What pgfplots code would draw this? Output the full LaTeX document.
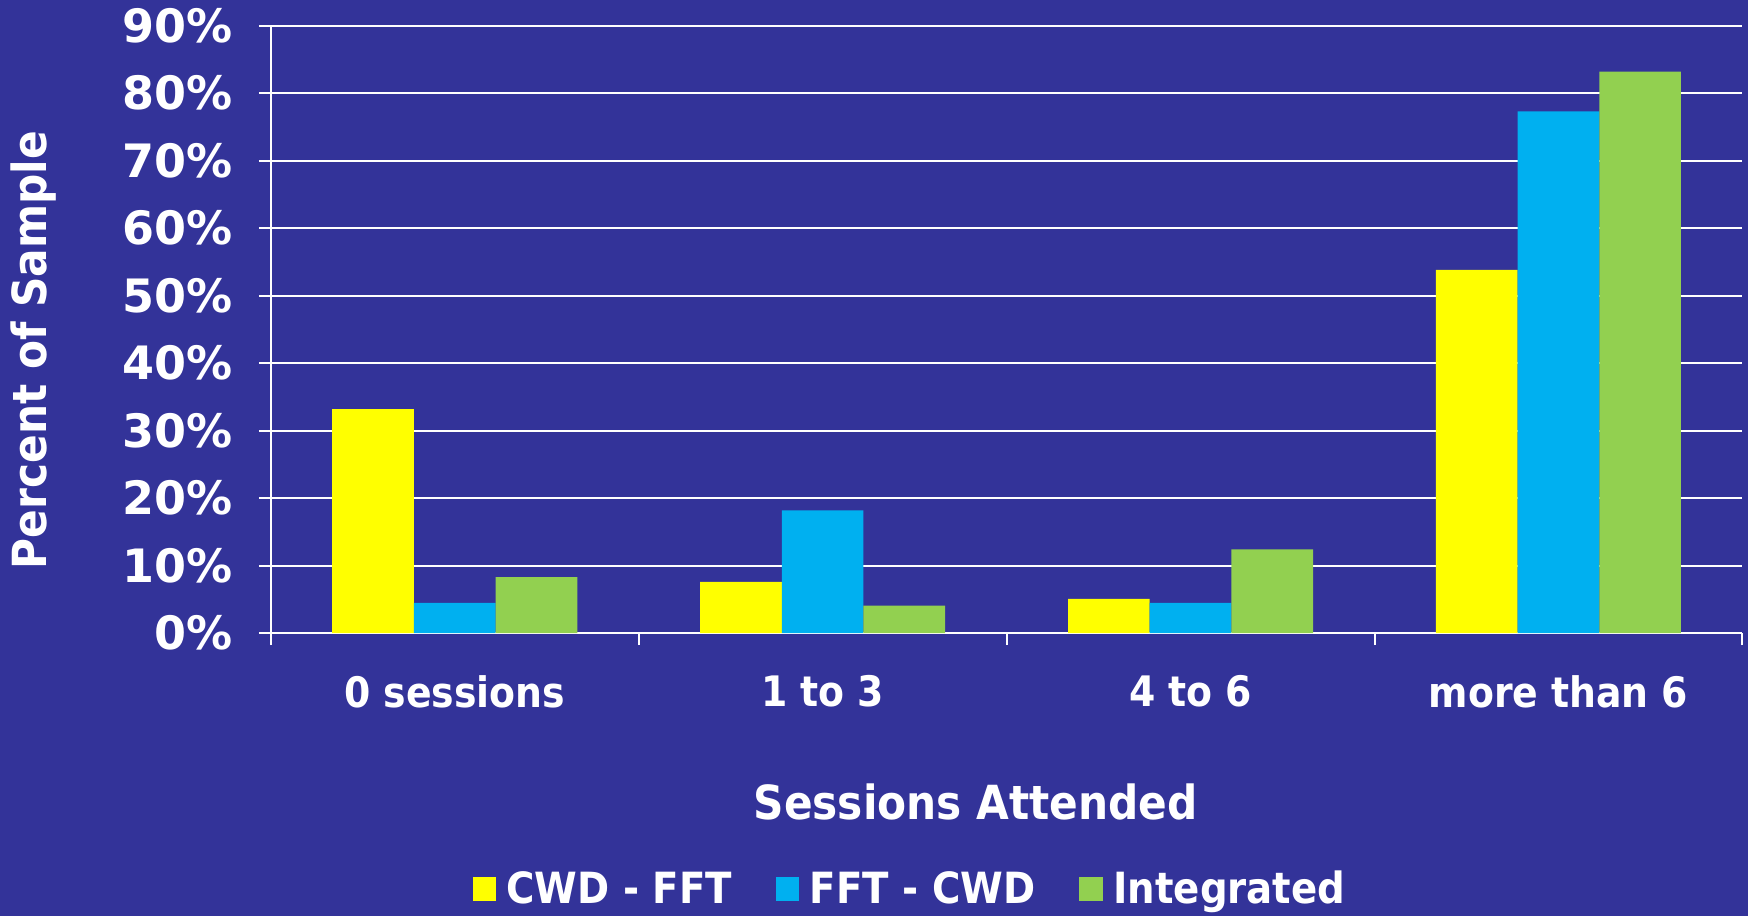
\documentclass[border=0pt]{standalone}
\usepackage{fontspec}
\setmainfont{DejaVu Sans}
\newfontfamily\condb{DejaVu Sans Condensed Bold}
\newfontfamily\dvb{DejaVu Sans Bold}
\usepackage{pgfplots}
\pgfplotsset{compat=1.18}
\definecolor{bg}{HTML}{333399}
\definecolor{cy}{HTML}{FFFF00}
\definecolor{cb}{HTML}{00B0F0}
\definecolor{cg}{HTML}{92D050}
\begin{document}
\begin{tikzpicture}
\useasboundingbox (0,0) rectangle (874pt,458pt);
\fill[bg] (0,0) rectangle (874pt,458pt);
\begin{axis}[
  at={(135.4pt,141.4pt)}, anchor=south west,
  scale only axis, width=735.8pt, height=303.8pt,
  ybar=0pt, bar width=0.222,
  xmin=-0.5, xmax=3.5, ymin=0, ymax=90,
  axis x line*=bottom, axis y line*=left,
  axis line style={white, line width=1pt, -},
  tick style={white, line width=1pt},
  tick align=outside, major tick length=6pt,
  ytick={0,10,...,90},
  /pgf/number format/assume math mode=true,
  yticklabel={\pgfmathprintnumber{\tick}\%},
  yticklabel style={font=\dvb\fontsize{23}{23}\selectfont, text=white, xshift=-9.5pt},
  xtick={-0.5,0.5,1.5,2.5,3.5},
  x tick label as interval,
  xticklabels={0 sessions,1 to 3,4 to 6,more than 6},
  xticklabel style={font=\condb\fontsize{21}{21}\selectfont, text=white, yshift=-11.5pt},
  ymajorgrids, grid style={white, line width=1pt},
  xlabel={Sessions Attended},
  xlabel style={font=\condb\fontsize{23.5}{23.5}\selectfont, text=white, at={(axis description cs:0.479,-0.278)}, anchor=center},
  ylabel={Percent of Sample},
  ylabel style={font=\condb\fontsize{23.5}{23.5}\selectfont, text=white, at={(axis description cs:-0.1613,0.466)}, anchor=center, rotate=0},
  legend columns=3,
  legend style={at={(axis description cs:0.435,-0.421)}, anchor=center, draw=none, fill=none, text=white,
    font=\condb\fontsize{21.5}{21.5}\selectfont,
    /tikz/every even column/.append style={column sep=20pt}},
  legend image code/.code={\fill[#1] (0pt,-5.85pt) rectangle (11.7pt,5.85pt); \path (15pt,0pt);},
]
\addplot[fill=cy, draw=none] coordinates {(0,33.2) (1,7.6) (2,5.1) (3,53.8)};
\addplot[fill=cb, draw=none] coordinates {(0,4.5) (1,18.2) (2,4.5) (3,77.3)};
\addplot[fill=cg, draw=none] coordinates {(0,8.3) (1,4.1) (2,12.4) (3,83.2)};
\legend{CWD - FFT, FFT - CWD, Integrated}
\end{axis}
\end{tikzpicture}
\end{document}
